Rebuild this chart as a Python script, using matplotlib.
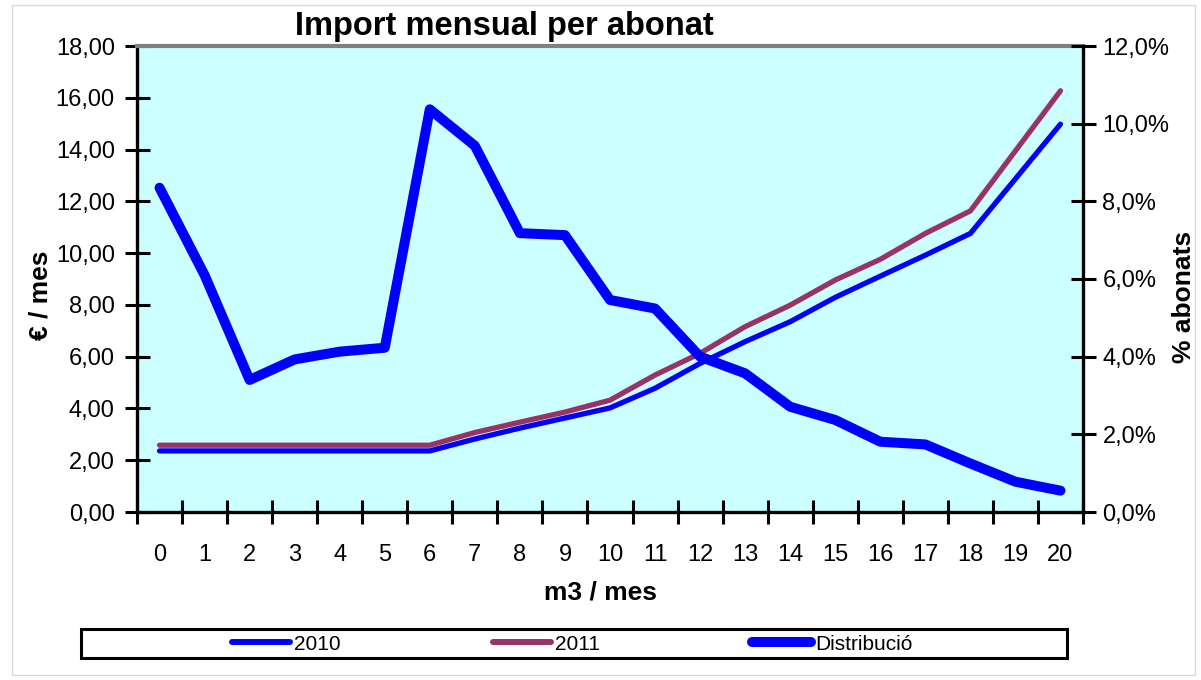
import matplotlib
matplotlib.use("Agg")
import matplotlib.pyplot as plt
from matplotlib.patches import Rectangle
from matplotlib.lines import Line2D
from matplotlib.ticker import FixedLocator, FuncFormatter
import numpy as np

plt.rcParams['font.family'] = ['Liberation Sans', 'DejaVu Sans']

# ---- data ----
categories = [str(i) for i in range(21)]
import_2010 = [2.36, 2.36, 2.36, 2.36, 2.36, 2.36, 2.36, 2.82, 3.24, 3.63, 4.02,
               4.78, 5.74, 6.58, 7.35, 8.29, 9.11, 9.92, 10.76, 12.87, 14.98]
import_2011 = [2.58, 2.58, 2.58, 2.58, 2.58, 2.58, 2.58, 3.07, 3.47, 3.86, 4.32,
               5.29, 6.13, 7.16, 7.99, 8.96, 9.76, 10.76, 11.63, 13.95, 16.27]
distribucio = [8.35, 6.10, 3.40, 3.93, 4.13, 4.23, 10.37, 9.43, 7.18, 7.13, 5.46,
               5.24, 4.00, 3.57, 2.71, 2.37, 1.81, 1.74, 1.25, 0.78, 0.55]
series_labels = ['2010', '2011', 'Distribució']
left_ticks = [0, 2, 4, 6, 8, 10, 12, 14, 16, 18]
right_ticks = [0, 2, 4, 6, 8, 10, 12]

W, H = 1201, 680
fig = plt.figure(figsize=(W / 100, H / 100), dpi=100)
fig.patch.set_facecolor('white')

# outer chart frame
fig.patches.append(Rectangle((12 / W, 1 - 675 / H), (1195 - 12) / W, (675 - 5) / H,
                             transform=fig.transFigure, facecolor='none',
                             edgecolor='#D9D9D9', lw=1.0, zorder=0))

L, R, T, B = 137, 1083, 46, 512
ax = fig.add_axes([L / W, 1 - B / H, (R - L) / W, (B - T) / H])
ax.set_facecolor('#CCFFFF')
x = np.arange(len(categories))

c2010 = '#0000FF'
c2011 = '#993366'
cdist = '#0000FF'

ax.plot(x, import_2011, color=c2011, lw=3.8, solid_capstyle='round', solid_joinstyle='round', zorder=3)
ax.plot(x, import_2010, color=c2010, lw=3.8, solid_capstyle='round', solid_joinstyle='round', zorder=4)
ax.set_xlim(-0.5, len(categories) - 0.5)
ax.set_ylim(0, 18)

ax2 = ax.twinx()
ax2.plot(x, distribucio, color=cdist, lw=7.2, solid_capstyle='round', solid_joinstyle='round', zorder=5)
ax2.set_ylim(0, 12)

# ticks
ax.xaxis.set_major_locator(FixedLocator(x))
ax.set_xticklabels(categories)
ax.xaxis.set_minor_locator(FixedLocator(np.arange(-0.5, len(categories), 1.0)))
ax.tick_params(axis='x', which='major', length=0, pad=23, labelsize=17)
ax.tick_params(axis='x', which='minor', direction='inout', length=17, width=2.2, color='black')

ax.yaxis.set_major_locator(FixedLocator(left_ticks))
ax.yaxis.set_major_formatter(FuncFormatter(lambda v, p: f"{v:.2f}".replace('.', ',')))
ax.tick_params(axis='y', direction='inout', length=18, width=2.2, pad=7, labelsize=17)

ax2.yaxis.set_major_locator(FixedLocator(right_ticks))
ax2.yaxis.set_major_formatter(FuncFormatter(lambda v, p: f"{v:.1f}".replace('.', ',') + '%'))
ax2.tick_params(axis='y', direction='inout', length=18, width=2.2, pad=5, labelsize=17)

for s in ['left', 'bottom']:
    ax.spines[s].set_color('black')
    ax.spines[s].set_linewidth(2.4)
ax.spines['right'].set_visible(False)
ax.spines['top'].set_color('#808080')
ax.spines['top'].set_linewidth(3.0)
for s in ['left', 'bottom', 'top']:
    ax2.spines[s].set_visible(False)
ax2.spines['right'].set_color('black')
ax2.spines['right'].set_linewidth(2.4)

# titles / labels
fig.text(504 / W, 1 - 27 / H, 'Import mensual per abonat', ha='center', va='center',
         fontsize=23.5, fontweight='bold')
fig.text(40 / W, 1 - 295 / H, '€ / mes', ha='center', va='center', rotation=90,
         fontsize=19, fontweight='bold')
fig.text(1184 / W, 1 - 297 / H, '% abonats', ha='center', va='center', rotation=90,
         fontsize=19, fontweight='bold')
fig.text(600 / W, 1 - 593 / H, 'm3 / mes', ha='center', va='center',
         fontsize=19, fontweight='bold')

# legend
fig.patches.append(Rectangle((81 / W, 1 - 658 / H), (1067 - 81) / W, (658 - 629) / H,
                             transform=fig.transFigure, facecolor='white',
                             edgecolor='black', lw=2.2, zorder=1))
handles = [Line2D([], [], color=c2010, lw=4.3, solid_capstyle='round'),
           Line2D([], [], color=c2011, lw=4.3, solid_capstyle='round'),
           Line2D([], [], color=cdist, lw=7.2, solid_capstyle='round')]
leg = fig.legend(handles, series_labels, loc='center', bbox_to_anchor=(572 / W, 1 - 644 / H),
                 ncol=3, frameon=False, fontsize=15, handlelength=2.8, handletextpad=0.2,
                 columnspacing=7.3, borderpad=0, borderaxespad=0)
leg.set_zorder(2)

fig.savefig('out.png', dpi=100, facecolor='white')
